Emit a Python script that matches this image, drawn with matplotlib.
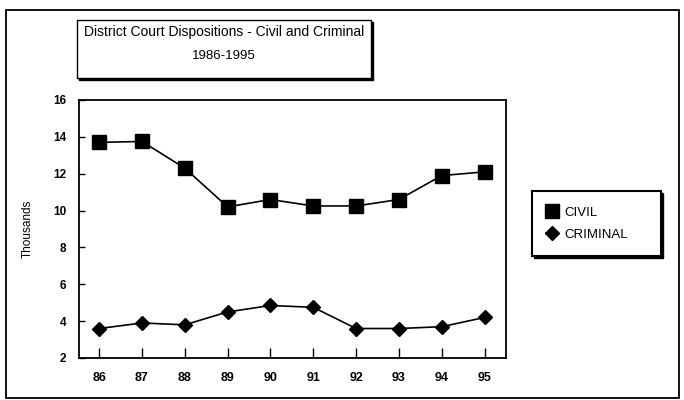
import matplotlib
matplotlib.use("Agg")
import matplotlib.pyplot as plt
from matplotlib.patches import Rectangle

years = [86, 87, 88, 89, 90, 91, 92, 93, 94, 95]
year_labels = ["86", "87", "88", "89", "90", "91", "92", "93", "94", "95"]
civil = [13.7, 13.75, 12.3, 10.2, 10.6, 10.25, 10.25, 10.6, 11.9, 12.1]
criminal = [3.6, 3.9, 3.8, 4.5, 4.85, 4.75, 3.6, 3.6, 3.7, 4.2]
yticks = [2, 4, 6, 8, 10, 12, 14, 16]

plt.rcParams['font.family'] = ['Liberation Sans', 'DejaVu Sans']

fig = plt.figure(figsize=(6.84, 4.0), dpi=100)
W, H = 684, 400

def fx(px):
    return px / W

def fy(py):
    return 1 - py / H

# outer border
fig.patches.append(Rectangle((fx(6), fy(398)), fx(679) - fx(6), fy(10) - fy(398),
                             transform=fig.transFigure, fill=False, ec='black', lw=1.3))

ax = fig.add_axes([fx(79), fy(358), fx(506) - fx(79), fy(100) - fy(358)])
ax.plot(years, civil, color='black', lw=1.2, marker='s', markersize=10, label='CIVIL')
ax.plot(years, criminal, color='black', lw=1.2, marker='D', markersize=7.5, label='CRIMINAL')
ax.set_xlim(85.53, 95.5)
ax.set_ylim(2, 16)
ax.set_yticks(yticks)
ax.set_yticklabels([str(v) for v in yticks], fontsize=8.5, fontweight='bold')
ax.set_xticks(years)
ax.set_xticklabels(year_labels, fontsize=9, fontweight='bold')
ax.tick_params(axis='y', direction='in', length=4, width=1, pad=9)
ax.tick_params(axis='x', direction='in', length=7, width=1, pad=10)
for s in ax.spines.values():
    s.set_linewidth(1.3)
ax.set_ylabel('Thousands', fontsize=8.5, labelpad=14)

# title box with shadow
tx0, ty0, tx1, ty1 = 77, 20, 371, 78
fig.patches.append(Rectangle((fx(tx0 + 2), fy(ty1 + 2)), fx(tx1) - fx(tx0), fy(ty0) - fy(ty1),
                             transform=fig.transFigure, fc='black', ec='black', lw=1))
fig.patches.append(Rectangle((fx(tx0), fy(ty1)), fx(tx1) - fx(tx0), fy(ty0) - fy(ty1),
                             transform=fig.transFigure, fc='white', ec='black', lw=1))
fig.text(fx(224), fy(32), 'District Court Dispositions - Civil and Criminal',
         ha='center', va='center', fontsize=10)
fig.text(fx(224), fy(56), '1986-1995', ha='center', va='center', fontsize=9.5)

# legend box with shadow
lx0, ly0, lx1, ly1 = 532, 191, 661, 256
fig.patches.append(Rectangle((fx(lx0 + 2), fy(ly1 + 2)), fx(lx1) - fx(lx0), fy(ly0) - fy(ly1),
                             transform=fig.transFigure, fc='black', ec='black', lw=1))
fig.patches.append(Rectangle((fx(lx0), fy(ly1)), fx(lx1) - fx(lx0), fy(ly0) - fy(ly1),
                             transform=fig.transFigure, fc='white', ec='black', lw=1.5))
h, l = ax.get_legend_handles_labels()
leg = fig.legend(h, l, loc='center left', bbox_to_anchor=(fx(lx0 + 5), fy((ly0 + ly1) / 2)),
                 frameon=False, fontsize=9.5, handlelength=0.9, handletextpad=0.45,
                 labelspacing=0.75, borderpad=0.2)

fig.savefig('out.png', dpi=100)
